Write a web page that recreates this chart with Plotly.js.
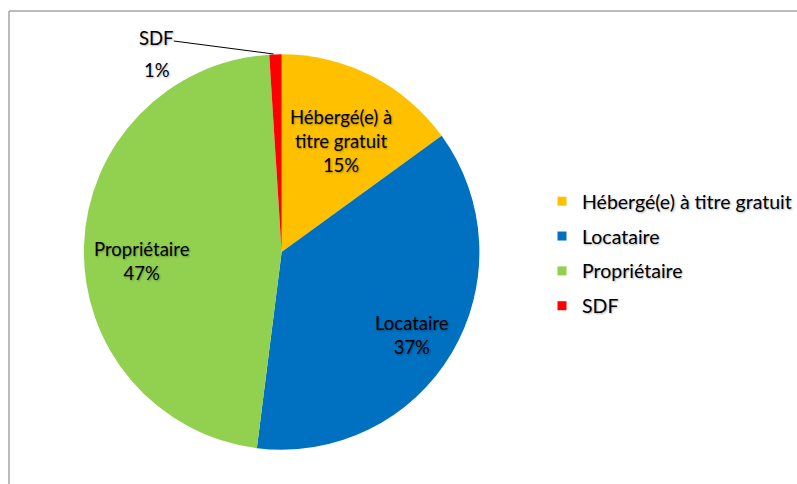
<!DOCTYPE html>
<html><head><meta charset="utf-8">
<script src="https://cdn.plot.ly/plotly-3.0.1.min.js"></script>
<style>html,body{margin:0;padding:0;background:#fff}</style>
</head><body><div id="chart" style="width:797px;height:484px"></div>
<script>
const categories = ["Hébergé(e) à titre gratuit", "Locataire", "Propriétaire", "SDF"];
const values = [15, 37, 47, 1];
const colors = ["#FFC000", "#0070C0", "#92D050", "#FF0000"];
const sliceLabels = ["Hébergé(e) à<br>titre gratuit", "Locataire", "Propriétaire", "SDF"];

const W = 797, H = 484;
const px = x => x / W, py = y => 1 - y / H;
const FONT = "Lato, 'Noto Sans', sans-serif";
const total = values.reduce((a, b) => a + b, 0);
const pct = v => Math.round(v / total * 100) + "%";
const labelFont = {family: FONT, size: 18.5, color: "#000", shadow: "1px 1px 2px rgba(0,0,0,0.3)"};

const data = [{
  type: "pie", values: values, labels: categories, sort: false, direction: "clockwise", rotation: 0,
  marker: {colors: colors, line: {width: 0}}, textinfo: "none", hoverinfo: "label+percent",
  showlegend: false,
  domain: {x: [px(84), px(480)], y: [py(450), py(54)]}
}];
categories.forEach((c, i) => data.push({
  type: "scatter", mode: "markers", x: [null], y: [null], name: c, legendgroup: "g" + i,
  marker: {symbol: "square", size: 9, color: colors[i]}, showlegend: true
}));

const labelPos = [[341, 141], [413, 335], [142, 261]];
const annotations = labelPos.map((p, i) => ({
  xref: "paper", yref: "paper", x: px(p[0]), y: py(p[1]), xanchor: "center", yanchor: "middle",
  showarrow: false, text: sliceLabels[i] + "<br>" + pct(values[i]), font: labelFont
}));
annotations.push({xref: "paper", yref: "paper", x: px(157), y: py(38), xanchor: "center", yanchor: "middle",
  showarrow: false, text: sliceLabels[3], font: labelFont});
annotations.push({xref: "paper", yref: "paper", x: px(157), y: py(70), xanchor: "center", yanchor: "middle",
  showarrow: false, text: pct(values[3]), font: labelFont});

const layout = {
  width: W, height: H, margin: {l: 0, r: 0, t: 0, b: 0},
  paper_bgcolor: "#fff", plot_bgcolor: "#fff",
  xaxis: {visible: false}, yaxis: {visible: false},
  showlegend: true,
  legend: {x: px(543), y: py(182), xanchor: "left", yanchor: "top", tracegroupgap: 6.5,
    font: {family: FONT, size: 19.5, color: "#000", shadow: "1px 1px 2px rgba(0,0,0,0.3)"},
    bgcolor: "rgba(0,0,0,0)", itemclick: false},
  annotations: annotations,
  shapes: [
    {type: "line", xref: "paper", yref: "paper", x0: px(9), y0: py(11), x1: px(800), y1: py(11), line: {color: "#A6A6A6", width: 1.5}},
    {type: "line", xref: "paper", yref: "paper", x0: px(9), y0: py(11), x1: px(9), y1: py(490), line: {color: "#A6A6A6", width: 1.5}},
    {type: "line", xref: "paper", yref: "paper", x0: px(174), y0: py(41), x1: px(274), y1: py(54), line: {color: "#000", width: 1}}
  ]
};
Plotly.newPlot("chart", data, layout, {displayModeBar: false, staticPlot: true});
</script></body></html>
